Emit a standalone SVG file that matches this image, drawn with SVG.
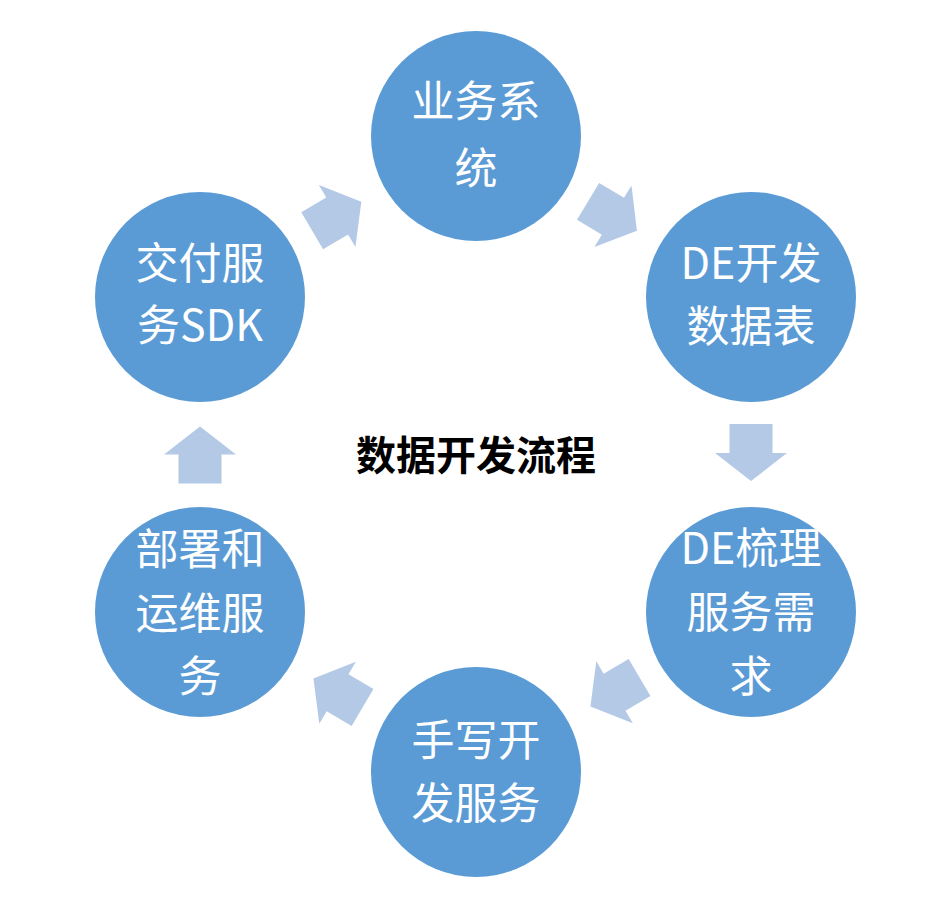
<svg xmlns="http://www.w3.org/2000/svg" xmlns:xlink="http://www.w3.org/1999/xlink" width="946" height="906" viewBox="0 0 946 906">
<style>
.c{fill:#5B9BD5}
.t{font-family:"Noto Sans CJK SC","Noto Sans",sans-serif;font-size:43px;fill:#FFFFFF;text-anchor:middle;dominant-baseline:central}
.title{font-family:"Noto Sans CJK SC","Noto Sans",sans-serif;font-size:40px;font-weight:bold;fill:#000000;text-anchor:middle;dominant-baseline:central}
.a{fill:#B4C9E6}
</style>
<defs>
<polygon id="arr" points="-28.5,-21.5 0.5,-21.5 0.5,-36 28.5,0 0.5,36 0.5,21.5 -28.5,21.5"/>
</defs>
<rect width="946" height="906" fill="#FFFFFF"/>
<g id="connectors" class="a">
<use xlink:href="#arr" transform="translate(336.75,216.25) rotate(-30.5)"/>
<use xlink:href="#arr" transform="translate(612.5,216) rotate(31)"/>
<use xlink:href="#arr" transform="translate(751,452.5) rotate(90)"/>
<use xlink:href="#arr" transform="translate(615,692) rotate(149.5)"/>
<use xlink:href="#arr" transform="translate(338,693) rotate(210.5)"/>
<use xlink:href="#arr" transform="translate(200,455) rotate(-90)"/>
</g>
<g id="n1">
<circle class="c" cx="476" cy="136" r="105"/>
<text class="t" x="476" y="98">业务系</text>
<text class="t" x="476" y="165">统</text>
</g>
<g id="n2">
<circle class="c" cx="751" cy="297" r="105"/>
<text class="t" x="751" y="260">DE开发</text>
<text class="t" x="751" y="323">数据表</text>
</g>
<g id="n3">
<circle class="c" cx="751" cy="612" r="105"/>
<text class="t" x="751" y="545">DE梳理</text>
<text class="t" x="751" y="609">服务需</text>
<text class="t" x="751" y="673">求</text>
</g>
<g id="n4">
<circle class="c" cx="476" cy="772" r="105"/>
<text class="t" x="476" y="737">手写开</text>
<text class="t" x="476" y="800">发服务</text>
</g>
<g id="n5">
<circle class="c" cx="200" cy="612" r="105"/>
<text class="t" x="200" y="546">部署和</text>
<text class="t" x="200" y="610">运维服</text>
<text class="t" x="200" y="673">务</text>
</g>
<g id="n6">
<circle class="c" cx="200" cy="297" r="105"/>
<text class="t" x="200" y="260">交付服</text>
<text class="t" x="200" y="322">务SDK</text>
</g>
<g id="title">
<text class="title" x="476" y="453">数据开发流程</text>
</g>
</svg>
